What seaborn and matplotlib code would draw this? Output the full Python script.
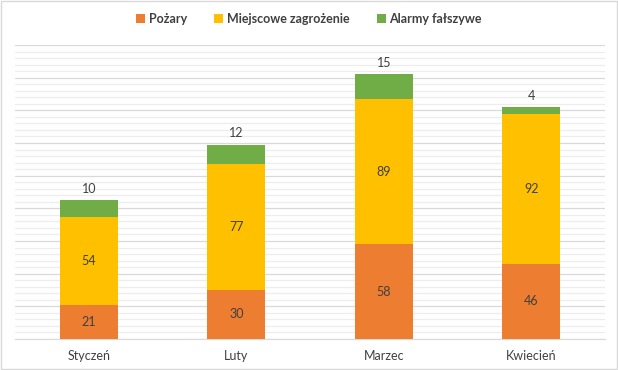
import matplotlib

matplotlib.use("Agg")
import matplotlib.pyplot as plt
import numpy as np
import pandas as pd
import seaborn as sns
from matplotlib.patches import Patch
from matplotlib.ticker import MultipleLocator

MONTHS = ["Styczeń", "Luty", "Marzec", "Kwiecień"]
SERIES = ["Pożary", "Miejscowe zagrożenie", "Alarmy fałszywe"]
POZARY = [21, 30, 58, 46]
MIEJSCOWE = [54, 77, 89, 92]
ALARMY = [10, 12, 15, 4]
COLORS = ["#ED7D31", "#FFC000", "#70AD47"]
TEXT = "#404040"

sns.set_style("white")
plt.rcParams["font.family"] = ["Lato", "DejaVu Sans"]

df = pd.DataFrame({"month": MONTHS, SERIES[0]: POZARY, SERIES[1]: MIEJSCOWE, SERIES[2]: ALARMY})

fig = plt.figure(figsize=(6.18, 3.70), dpi=100)
ax = fig.add_axes([15 / 618, 1 - 339 / 370, 590 / 618, 294 / 370])

bottom = np.zeros(len(MONTHS))
for i, (name, color) in enumerate(zip(SERIES, COLORS)):
    sns.barplot(data=df, x="month", y=name, bottom=bottom, color=color,
                width=0.39, ax=ax, saturation=1, linewidth=0, zorder=3)
    cont = ax.containers[-1]
    vals = [str(v) for v in df[name]]
    if i < len(SERIES) - 1:
        ax.bar_label(cont, labels=vals, label_type="center", fontsize=9, color=TEXT)
    else:
        ax.bar_label(cont, labels=vals, padding=4, fontsize=9, color=TEXT)
    bottom = bottom + df[name].to_numpy()

ax.set_ylim(0, 180)
ax.set_xlim(-0.5, len(MONTHS) - 0.5)
ax.yaxis.set_major_locator(MultipleLocator(20))
ax.yaxis.set_minor_locator(MultipleLocator(4))
ax.grid(axis="y", which="major", color="#D9D9D9", linewidth=0.9, zorder=0)
ax.grid(axis="y", which="minor", color="#EDEDED", linewidth=0.9, zorder=0)
ax.set_yticklabels([])
ax.tick_params(axis="y", which="both", length=0)
ax.tick_params(axis="x", length=0, labelsize=9, labelcolor=TEXT, pad=8)
ax.set_xlabel("")
ax.set_ylabel("")
for side in ["left", "right", "top"]:
    ax.spines[side].set_visible(False)
ax.spines["bottom"].set_color("#D9D9D9")

handles = [Patch(facecolor=c, edgecolor="none") for c in COLORS]
fig.legend(handles, SERIES, loc="upper center", bbox_to_anchor=(0.5, 0.995), ncol=3,
           frameon=False, handlelength=0.7, handleheight=0.7, handletextpad=0.3,
           columnspacing=2.2, prop={"size": 9, "weight": "bold"}, labelcolor=TEXT)

fig.patches.append(plt.Rectangle((0.002, 0.003), 0.996, 0.994, transform=fig.transFigure,
                                 fill=False, edgecolor="#D9D9D9", linewidth=1))

fig.savefig("out.png", dpi=100)
